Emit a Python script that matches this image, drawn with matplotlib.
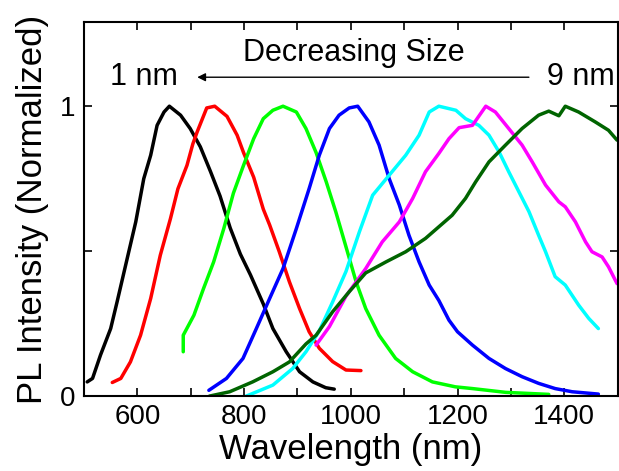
import numpy as np
import matplotlib.pyplot as plt

plt.rcParams['font.family'] = ['Liberation Sans', 'DejaVu Sans']

# PL spectra, wavelength (nm) vs normalized intensity, one per dot size (1 nm ... 9 nm)
wl_1 = [506, 516, 531, 550, 562, 581, 597, 612, 625, 637, 650, 660, 681, 699, 718, 737, 755, 774, 793,
        812, 836, 854, 879, 904, 929, 953, 969]
pl_1 = [0.049, 0.061, 0.142, 0.233, 0.325, 0.475, 0.601, 0.750, 0.831, 0.934, 0.980, 1.0, 0.969, 0.923,
        0.860, 0.775, 0.690, 0.580, 0.490, 0.418, 0.318, 0.233, 0.153, 0.084, 0.049, 0.029, 0.024]

wl_2 = [553, 569, 587, 606, 625, 643, 662, 676, 693, 704, 712, 730, 745, 768, 787, 799, 818, 836, 848,
        866, 885, 904, 922, 941, 966, 991, 1019]
pl_2 = [0.047, 0.061, 0.118, 0.210, 0.337, 0.486, 0.612, 0.715, 0.796, 0.870, 0.911, 0.994, 1.0, 0.965,
        0.900, 0.840, 0.755, 0.645, 0.590, 0.498, 0.394, 0.302, 0.222, 0.165, 0.119, 0.090, 0.088]

wl_3 = [686, 686, 706, 724, 743, 762, 780, 799, 818, 836, 854, 873, 898, 916, 935, 954, 972, 991, 1010,
        1028, 1053, 1084, 1116, 1153, 1196, 1228, 1290, 1371]
pl_3 = [0.153, 0.210, 0.279, 0.371, 0.463, 0.578, 0.700, 0.796, 0.888, 0.957, 0.986, 1.0, 0.980, 0.923,
        0.840, 0.739, 0.635, 0.515, 0.394, 0.302, 0.210, 0.130, 0.084, 0.049, 0.032, 0.026, 0.013, 0.006]

wl_4 = [734, 767, 798, 823, 848, 873, 898, 922, 941, 960, 978, 997, 1013, 1034, 1053, 1072, 1091, 1109,
        1128, 1147, 1165, 1184, 1200, 1228, 1259, 1290, 1321, 1352, 1383, 1415, 1464]
pl_4 = [0.020, 0.061, 0.130, 0.233, 0.337, 0.440, 0.578, 0.716, 0.831, 0.923, 0.969, 0.994, 1.0, 0.946,
        0.866, 0.750, 0.659, 0.555, 0.463, 0.383, 0.330, 0.262, 0.222, 0.176, 0.130, 0.095, 0.067, 0.044,
        0.026, 0.015, 0.007]

wl_5 = [804, 854, 891, 916, 941, 966, 991, 1016, 1041, 1072, 1103, 1128, 1147, 1165, 1197, 1215, 1240,
        1259, 1278, 1296, 1315, 1334, 1352, 1365, 1383, 1402, 1427, 1446, 1464]
pl_5 = [0.0, 0.038, 0.095, 0.153, 0.225, 0.325, 0.430, 0.566, 0.693, 0.762, 0.831, 0.900, 0.980, 1.0,
        0.986, 0.957, 0.934, 0.900, 0.842, 0.774, 0.705, 0.636, 0.555, 0.498, 0.412, 0.383, 0.314, 0.268,
        0.233]

wl_6 = [935, 960, 991, 1028, 1059, 1091, 1116, 1140, 1165, 1184, 1203, 1228, 1253, 1271, 1296, 1321,
        1340, 1365, 1390, 1402, 1421, 1440, 1452, 1471, 1483, 1499]
pl_6 = [0.176, 0.240, 0.345, 0.440, 0.532, 0.601, 0.682, 0.774, 0.837, 0.888, 0.926, 0.934, 1.0, 0.980,
        0.923, 0.866, 0.808, 0.728, 0.670, 0.653, 0.601, 0.532, 0.498, 0.480, 0.446, 0.388]

wl_7 = [735, 773, 816, 854, 885, 916, 935, 966, 997, 1028, 1066, 1103, 1140, 1165, 1190, 1215, 1234,
        1259, 1290, 1321, 1352, 1371, 1390, 1402, 1427, 1458, 1483, 1499]
pl_7 = [0.0, 0.015, 0.049, 0.084, 0.118, 0.180, 0.210, 0.291, 0.360, 0.425, 0.463, 0.498, 0.544, 0.584,
        0.624, 0.682, 0.739, 0.808, 0.866, 0.923, 0.969, 0.983, 0.967, 1.0, 0.980, 0.946, 0.917, 0.883]

spectra = [(wl_1, pl_1, 'black'), (wl_2, pl_2, 'red'), (wl_3, pl_3, '#00ff00'), (wl_4, pl_4, 'blue'),
           (wl_5, pl_5, 'cyan'), (wl_6, pl_6, 'magenta'), (wl_7, pl_7, '#006400')]

fig = plt.figure(figsize=(6.19, 4.71), dpi=100)
ax = fig.add_axes([0.1357, 0.159, 0.862, 0.794])

for wl, pl, c in spectra:
    ax.plot(wl, pl, color=c, lw=2.5, solid_joinstyle='round', solid_capstyle='round')

ax.set_xlim(500, 1500)
ax.set_ylim(0, 1.29)
ax.set_xticks([600, 800, 1000, 1200, 1400])
ax.set_xticks([700, 900, 1100, 1300], minor=True)
ax.set_yticks([0, 1])
ax.set_yticks([0.5], minor=True)
ax.tick_params(which='both', direction='in', top=True, right=True, length=6, width=1.2,
               labelsize=20, pad=6)
for s in ax.spines.values():
    s.set_linewidth(1.5)

ax.set_xlabel('Wavelength (nm)', fontsize=25, labelpad=2)
ax.set_ylabel('PL Intensity (Normalized)', fontsize=25, labelpad=8)

ax.annotate('', xy=(707, 1.10), xytext=(1339, 1.10),
            arrowprops=dict(arrowstyle='-|>', color='black', lw=1, mutation_scale=12))
ax.text(1005, 1.185, 'Decreasing Size', fontsize=22, ha='center', va='center')
ax.text(612, 1.10, '1 nm', fontsize=22, ha='center', va='center')
ax.text(1495, 1.10, '9 nm', fontsize=22, ha='right', va='center')

fig.savefig('out.png', dpi=100)
